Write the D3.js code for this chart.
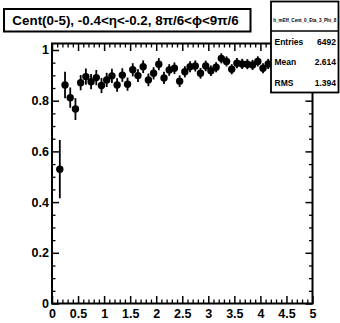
<!DOCTYPE html>
<html>
<head>
<meta charset="utf-8">
<script src="https://cdn.jsdelivr.net/npm/d3@7"></script>
<style>
  html, body { margin: 0; padding: 0; background: #fff; }
  svg { display: block; font-family: "Liberation Sans", Arial, Helvetica, sans-serif; }
</style>
</head>
<body>
<svg id="chart" width="340" height="323"></svg>
<script>
// ---- data ----
const binCenters = d3.range(50).map(i => +(0.15 + 0.1 * i).toFixed(2));
const values = [
  0.530, 0.862, 0.812, 0.767, 0.871, 0.895, 0.875, 0.891, 0.860, 0.882,
  0.898, 0.862, 0.901, 0.865, 0.922, 0.899, 0.934, 0.882, 0.908, 0.944,
  0.890, 0.921, 0.928, 0.877, 0.914, 0.934, 0.937, 0.908, 0.937, 0.918,
  0.932, 0.967, 0.955, 0.924, 0.948, 0.945, 0.944, 0.941, 0.955, 0.928,
  0.945, 0.950, 0.940, 0.950, 0.940, 0.955, 0.948, 0.940, 0.950, 0.935
];
const errors = [
  0.115, 0.052, 0.040, 0.043, 0.030, 0.032, 0.030, 0.030, 0.030, 0.028,
  0.028, 0.027, 0.027, 0.026, 0.026, 0.025, 0.025, 0.025, 0.024, 0.024,
  0.024, 0.023, 0.023, 0.023, 0.022, 0.022, 0.022, 0.021, 0.021, 0.021,
  0.020, 0.020, 0.020, 0.020, 0.020, 0.020, 0.020, 0.020, 0.020, 0.020,
  0.020, 0.020, 0.020, 0.020, 0.020, 0.020, 0.020, 0.020, 0.020, 0.020
];
const xMajorTicks = [0, 0.5, 1, 1.5, 2, 2.5, 3, 3.5, 4, 4.5, 5];
const xTickLabels = ["0", "0.5", "1", "1.5", "2", "2.5", "3", "3.5", "4", "4.5", "5"];
const yMajorTicks = [0, 0.2, 0.4, 0.6, 0.8, 1];
const yTickLabels = ["0", "0.2", "0.4", "0.6", "0.8", "1"];
const titleText = "Cent(0-5), -0.4<η<-0.2, 8π/6<ϕ<9π/6";
const statsName = "h_mEff_Cent_0_Eta_3_Phi_8";
const statsLabels = ["Entries", "Mean", "RMS"];
const statsValues = ["6492", "2.614", "1.394"];

// ---- layout ----
const svg = d3.select("#chart");
const L = 52, R = 312.5, T = 43.5, B = 303.5;
const x = d3.scaleLinear().domain([0, 5]).range([L, R]);
const y = d3.scaleLinear().domain([0, 1.0256]).range([B, T]);

const xMinor = d3.range(0, 5.0001, 0.1).map(v => +v.toFixed(2)).filter(v => !xMajorTicks.includes(v));
const yMinor = d3.range(0, 1.0256, 0.05).map(v => +v.toFixed(2)).filter(v => !yMajorTicks.includes(v));

function styleAxis(g, sw) {
  g.select(".domain").remove();
  g.selectAll(".tick line").attr("stroke", "#000").attr("stroke-width", sw);
  g.selectAll(".tick text").attr("fill", "#000").attr("font-weight", "bold").attr("font-size", "12.5px")
    .attr("font-family", "'Liberation Sans', Arial, sans-serif");
}

// bottom axis
const gb = svg.append("g").attr("transform", `translate(0,${B})`)
  .call(d3.axisBottom(x).tickValues(xMajorTicks).tickSize(-7.5).tickPadding(3)
    .tickFormat((d, i) => xTickLabels[i]));
styleAxis(gb, 1.5);
gb.selectAll(".tick text").attr("dy", "0.9em");
svg.append("g").attr("transform", `translate(0,${B})`)
  .call(d3.axisBottom(x).tickValues(xMinor).tickSize(-4).tickFormat(""))
  .call(g => styleAxis(g, 1.3));
// top axis
svg.append("g").attr("transform", `translate(0,${T})`)
  .call(d3.axisTop(x).tickValues(xMajorTicks).tickSize(-7.5).tickFormat(""))
  .call(g => styleAxis(g, 1.5));
svg.append("g").attr("transform", `translate(0,${T})`)
  .call(d3.axisTop(x).tickValues(xMinor).tickSize(-4).tickFormat(""))
  .call(g => styleAxis(g, 1.3));
// left axis
const gl = svg.append("g").attr("transform", `translate(${L},0)`)
  .call(d3.axisLeft(y).tickValues(yMajorTicks).tickSize(-7).tickPadding(3)
    .tickFormat((d, i) => yTickLabels[i]));
styleAxis(gl, 1.5);
svg.append("g").attr("transform", `translate(${L},0)`)
  .call(d3.axisLeft(y).tickValues(yMinor).tickSize(-3.5).tickFormat(""))
  .call(g => styleAxis(g, 1.3));
// right axis
svg.append("g").attr("transform", `translate(${R},0)`)
  .call(d3.axisRight(y).tickValues(yMajorTicks).tickSize(-7).tickFormat(""))
  .call(g => styleAxis(g, 1.5));
svg.append("g").attr("transform", `translate(${R},0)`)
  .call(d3.axisRight(y).tickValues(yMinor).tickSize(-3.5).tickFormat(""))
  .call(g => styleAxis(g, 1.3));

// frame
svg.append("rect").attr("x", L).attr("y", T).attr("width", R - L).attr("height", B - T)
  .attr("fill", "none").attr("stroke", "#000").attr("stroke-width", 2);

// data
const pts = binCenters.map((c, i) => ({ x: c, v: values[i], e: errors[i] }));
svg.append("g").selectAll("line").data(pts).join("line")
  .attr("x1", d => x(d.x)).attr("x2", d => x(d.x))
  .attr("y1", d => y(d.v - d.e)).attr("y2", d => y(d.v + d.e))
  .attr("stroke", "#000").attr("stroke-width", 1.8);
svg.append("g").selectAll("circle").data(pts).join("circle")
  .attr("cx", d => x(d.x)).attr("cy", d => y(d.v)).attr("r", 3.7).attr("fill", "#000");

// title box
svg.append("rect").attr("x", 4).attr("y", 9).attr("width", 246.5).attr("height", 22.5)
  .attr("fill", "#fff").attr("stroke", "#000").attr("stroke-width", 2);
svg.append("text").attr("x", 125.5).attr("y", 25).attr("text-anchor", "middle")
  .attr("font-size", "13.4px").attr("font-weight", "bold").text(titleText);

// stats box
const sb = svg.append("g");
sb.append("rect").attr("x", 271).attr("y", 1.5).attr("width", 67.5).attr("height", 91)
  .attr("fill", "#fff").attr("stroke", "#000").attr("stroke-width", 1.8);
sb.append("line").attr("x1", 271).attr("x2", 338.5).attr("y1", 31).attr("y2", 31)
  .attr("stroke", "#000").attr("stroke-width", 1.5);
sb.append("text").attr("x", 304.75).attr("y", 21.5).attr("text-anchor", "middle")
  .attr("font-size", "4.6px").attr("font-weight", "bold").text(statsName);
const rowY = [44.5, 65, 86];
statsLabels.forEach((lab, i) => {
  sb.append("text").attr("x", 274.5).attr("y", rowY[i]).attr("font-size", "8.5px")
    .attr("font-weight", "bold").text(lab);
  sb.append("text").attr("x", 336).attr("y", rowY[i]).attr("text-anchor", "end")
    .attr("font-size", "8.5px").attr("font-weight", "bold").text(statsValues[i]);
});
</script>
</body>
</html>
